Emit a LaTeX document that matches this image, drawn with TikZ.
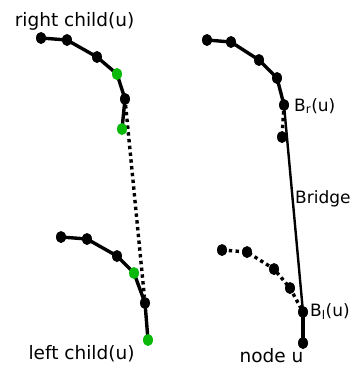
\documentclass[tikz,border=0pt]{standalone}
\usepackage{fontspec}
\setmainfont{DejaVu Sans}
\usetikzlibrary{shapes.geometric,backgrounds}
\definecolor{dotgreen}{RGB}{10,185,10}
\tikzset{
  vtx/.style={ellipse,fill=black,inner sep=0pt,minimum width=10pt,minimum height=12pt},
  gvtx/.style={vtx,fill=dotgreen},
  chain/.style={line width=3.4pt},
  dotline/.style={line width=3.4pt,dash pattern=on 3.4pt off 3.4pt},
  bridgeline/.style={line width=2.4pt},
  lbl/.style={inner sep=0pt,font=\fontsize{18.5}{20}\selectfont},
  slbl/.style={inner sep=0pt,font=\fontsize{17}{19}\selectfont}
}
\begin{document}
\begin{tikzpicture}[x=1pt,y=-1pt]
\useasboundingbox (0,0) rectangle (355,367);
% left top chain (right child)
\node[vtx]  (a1) at (41,38) {};
\node[vtx]  (a2) at (67,40) {};
\node[vtx]  (a3) at (97,57) {};
\node[gvtx] (a4) at (117,74) {};
\node[vtx]  (a5) at (125,99) {};
\node[gvtx] (a6) at (122,129) {};
% left bottom chain (left child)
\node[vtx]  (b1) at (61,237) {};
\node[vtx]  (b2) at (87,239) {};
\node[vtx]  (b3) at (117,256) {};
\node[gvtx] (b4) at (134,273) {};
\node[vtx]  (b5) at (145,303) {};
\node[gvtx] (b6) at (148,340) {};
% right top chain
\node[vtx] (c1) at (207,40) {};
\node[vtx] (c2) at (231,42) {};
\node[vtx] (c3) at (259,60) {};
\node[vtx] (c4) at (277,78) {};
\node[vtx] (c5) at (284,105) {};
\node[vtx] (c6) at (282,137) {};
% right bottom chain
\node[vtx] (d1) at (222,250) {};
\node[vtx] (d2) at (247,252) {};
\node[vtx] (d3) at (274,269) {};
\node[vtx] (d4) at (290,288) {};
\node[vtx] (d5) at (303,312) {};
\node[vtx] (u)  at (303,343) {};
\begin{scope}[on background layer]
  \draw[chain] (a1.center) -- (a2.center) -- (a3.center) -- (a4.center) -- (a5.center) -- (a6.center);
  \draw[chain] (b1.center) -- (b2.center) -- (b3.center) -- (b4.center) -- (b5.center) -- (b6.center);
  \draw[dotline] (a5) -- (b5);
  \draw[chain] (c1.center) -- (c2.center) -- (c3.center) -- (c4.center) -- (c5.center);
  \draw[dotline] (c5) -- (c6);
  \draw[dotline] (d1.center) -- (d2.center) -- (d3.center) -- (d4.center) -- (d5.center);
  \draw[bridgeline] (c5.center) -- (d5.center);
  \draw[chain] (d5.center) -- (u.center);
\end{scope}
% labels
\node[lbl,anchor=base] (lr) at (74.5,26) {right child(u)};
\node[lbl,anchor=base] (ll) at (81.5,359) {left child(u)};
\node[lbl,anchor=base] (lu) at (271.5,362.5) {node u};
\node[slbl,anchor=base west] (lb) at (295,203) {Bridge};
\node[slbl,anchor=base west] (lbr) at (294,111) {B\textsubscript{r}(u)};
\node[slbl,anchor=base west] (lbl) at (310,316) {B\textsubscript{l}(u)};
\end{tikzpicture}
\end{document}
